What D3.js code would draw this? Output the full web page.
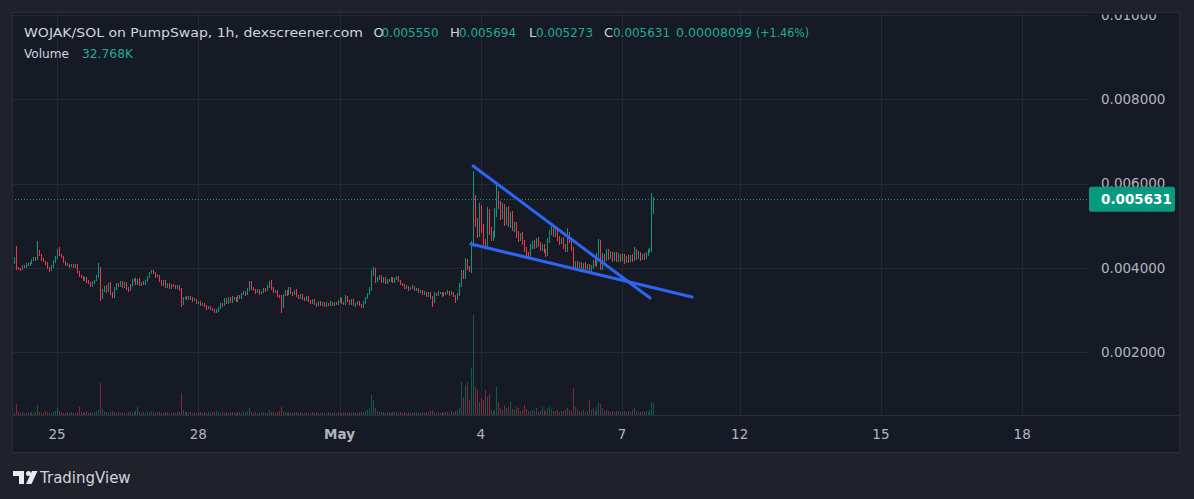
<!DOCTYPE html>
<html><head><meta charset="utf-8">
<script src="https://cdn.jsdelivr.net/npm/d3@7"></script>
<style>html,body{margin:0;padding:0;background:#1f222b;}svg{display:block}</style>
</head><body>
<svg id="c" width="1194" height="499"></svg>
<script>
// ---------- DATA (prices in micro-SOL, volumes in K) ----------
const UNIT = 1e-6;
const firstBarIndex = -22;          // bar index 0 = Apr 25 00:00 (1h bars)
const firstOpen = 4118;
const closes = [
4237,4000,3990,3960,4050,4020,4090,4060,4120,4180,
4230,4200,4400,4310,4200,4150,4100,4000,3950,4030,
4150,4250,4380,4300,4250,4150,4060,4080,4040,4070,
4030,4060,3900,3820,3780,3720,3760,3680,3640,3580,
3650,3700,3800,4000,3300,3450,3550,3450,3600,3400,
3320,3500,3620,3580,3660,3560,3640,3520,3470,3580,
3700,3740,3620,3720,3600,3650,3620,3700,3780,3880,
3930,3880,3800,3820,3700,3600,3680,3560,3620,3540,
3600,3580,3520,3560,3480,3150,3290,3300,3270,3310,
3280,3230,3250,3180,3200,3120,3150,3100,3050,3080,
3030,3000,2960,2990,3060,3150,3120,3250,3180,3280,
3200,3300,3270,3220,3330,3300,3380,3430,3380,3480,
3650,3520,3480,3420,3480,3400,3430,3500,3470,3560,
3680,3520,3440,3460,3350,3320,3080,3350,3450,3380,
3520,3420,3380,3460,3330,3300,3360,3280,3250,3320,
3230,3180,3240,3150,3120,3190,3120,3170,3110,3160,
3130,3180,3120,3170,3140,3200,3260,3180,3150,3320,
3230,3150,3230,3120,3150,3200,3130,3080,3180,3280,
3380,3500,3850,3980,3700,3750,3800,3680,3760,3660,
3720,3700,3760,3680,3740,3780,3700,3620,3600,3540,
3560,3500,3520,3560,3480,3500,3440,3460,3400,3420,
3340,3400,3300,3200,3380,3360,3420,3400,3350,3410,
3400,3440,3380,3420,3340,3280,3380,3600,3900,3800,
4150,4000,3950,4550,5700,5070,4830,5400,4950,4600,
4550,5300,4900,4750,4800,5300,5700,5500,5250,5420,
5100,5350,5050,5250,4950,5000,4800,4700,4780,4600,
4450,4330,4300,4500,4600,4520,4680,4550,4450,4520,
4400,4330,4650,4850,4950,4780,4900,4700,4600,4680,
4500,4420,4800,4650,4450,4000,4120,4050,4100,4000,
4080,3980,4050,3930,4020,4150,4080,4300,4600,4000,
4300,4200,4400,4250,4350,4200,4330,4180,4300,4200,
4280,4150,4250,4170,4260,4200,4420,4250,4350,4220,
4300,4250,4330,4400,4420,5550,5631];
const upperWicks = [
25,283,30,20,30,25,35,20,30,40,
30,25,240,30,20,25,20,30,25,30,
40,35,60,120,30,25,20,30,25,30,
20,25,30,20,25,20,30,20,25,20,
30,25,40,118,30,40,30,40,35,60,
30,40,30,35,25,40,30,35,25,30,
35,30,25,30,40,25,30,25,30,35,
22,30,25,30,25,20,30,25,30,25,
30,25,20,30,25,40,30,20,25,30,
20,25,30,20,25,20,30,25,20,25,
20,25,20,30,25,30,20,35,30,25,
30,25,20,30,25,30,25,30,20,35,
40,30,25,20,30,25,20,30,25,30,
20,30,25,20,25,20,30,30,25,30,
25,30,20,25,30,20,25,20,25,20,
25,20,25,30,20,25,20,25,20,25,
20,25,20,25,20,30,40,25,20,30,
25,20,30,25,20,25,20,25,30,35,
30,40,100,40,30,35,30,25,30,25,
30,25,30,25,30,35,25,20,25,20,
25,20,25,30,20,25,20,25,20,25,
20,25,20,30,40,25,30,20,25,30,
25,30,20,25,20,25,30,40,50,60,
80,60,50,100,600,20,120,150,100,90,
80,150,100,80,70,120,350,120,100,110,
90,100,120,80,100,90,80,70,60,80,
60,50,40,60,50,60,40,50,60,50,
60,50,60,50,40,60,50,60,50,40,
50,60,150,50,60,40,50,40,50,40,
40,50,40,50,40,50,60,50,80,60,
50,40,60,40,50,40,50,40,50,40,
40,50,40,50,40,60,80,40,50,40,
40,50,40,50,60,230,63];
const lowerWicks = [
20,40,30,25,20,30,20,25,20,30,
25,30,20,25,30,20,25,30,40,20,
20,25,30,20,25,30,25,20,30,25,
30,20,25,30,25,30,20,25,30,35,
20,25,20,30,80,30,25,40,30,50,
40,30,25,30,25,30,25,35,40,25,
25,30,35,25,30,25,30,25,30,20,
25,30,35,25,30,35,25,40,30,35,
30,35,30,25,30,76,30,25,30,25,
30,35,25,30,25,30,25,30,35,30,
35,30,30,28,25,30,35,30,25,30,
30,25,30,35,25,30,25,30,35,25,
30,35,30,35,25,30,25,30,35,25,
30,35,30,25,35,30,148,30,25,35,
25,30,35,25,30,35,25,30,35,25,
30,35,25,30,35,25,30,25,30,25,
30,25,30,25,30,25,30,35,30,25,
35,30,25,30,35,25,30,40,25,30,
25,30,40,30,50,30,25,35,30,35,
30,25,30,35,25,30,35,30,25,35,
30,35,30,25,35,30,35,30,35,30,
35,30,40,126,30,25,30,25,30,25,
30,25,35,25,35,110,30,40,50,60,
50,60,50,60,50,100,120,100,120,110,
90,80,120,100,110,90,80,100,110,90,
100,80,90,100,80,90,100,80,70,60,
60,50,60,40,50,60,50,60,50,40,
50,60,40,50,60,50,40,60,50,40,
60,50,40,60,50,50,40,50,40,60,
40,50,40,50,40,50,40,50,40,50,
40,50,40,50,40,50,40,50,40,50,
40,50,40,50,40,50,40,50,40,50,
40,50,40,50,40,40,277];
const volumesK = [
6,30,8,5,7,4,6,9,5,7,
6,8,27,9,6,5,10,7,5,6,
8,12,18,10,7,6,5,8,6,7,
5,6,9,22,8,7,6,10,5,7,
6,8,10,14,88,16,9,8,6,7,
10,8,6,7,5,9,6,5,8,7,
6,9,10,22,7,6,8,5,7,9,
12,8,6,7,9,6,5,8,7,6,
5,7,6,8,9,60,14,9,7,6,
8,5,7,6,9,7,6,8,5,7,
6,9,7,10,8,6,7,5,8,6,
7,9,6,5,8,7,6,9,7,10,
20,8,6,7,5,6,8,7,5,6,
14,9,7,6,8,10,22,9,7,6,
8,6,5,7,9,6,8,5,6,7,
5,6,8,5,7,6,5,8,6,5,
7,6,5,8,6,7,5,6,7,9,
6,8,5,7,6,5,8,9,7,10,
14,20,55,40,18,10,8,9,7,6,
8,7,6,9,7,8,6,7,5,8,
6,7,5,6,8,7,6,5,7,6,
8,7,10,14,9,6,7,5,8,6,
7,9,6,10,8,12,14,18,90,49,
82,90,41,128,273,76,68,35,46,41,
68,49,57,14,12,15,76,35,20,14,
27,18,22,35,16,14,22,18,12,14,
27,16,12,10,14,11,20,9,12,22,
14,11,18,22,16,12,10,13,9,11,
12,14,20,15,12,74,22,16,12,10,
14,9,12,41,15,20,12,22,33,30,
18,12,14,10,9,12,8,10,12,9,
8,10,9,12,8,14,18,10,8,9,
10,8,12,9,14,35,32.768];

const priceTicks = [0.002, 0.004, 0.006, 0.008, 0.010];
const priceTickLabels = ["0.002000", "0.004000", "0.006000", "0.008000", "0.01000"];
const timeTickIndex = [0, 72, 144, 216, 288, 348, 420, 492];
const timeTickLabels = ["25", "28", "May", "4", "7", "12", "15", "18"];
const trendLines = [
  [[212.1, 0.00642], [302.3, 0.003288]],
  [[211.0, 0.004569], [323.7, 0.003312]]
];
const legendTitle = "WOJAK/SOL on PumpSwap, 1h, dexscreener.com";
const legendKeys = ["O", "H", "L", "C"];
const legendVals = ["0.005550", "0.005694", "0.005273", "0.005631"];
const legendChange = ["0.00008099", "(+1.46%)"];
const volumeLabel = ["Volume", "32.768K"];
const lastPriceLabel = "0.005631";

// ---------- LAYOUT ----------
const W = 1194, H = 499;
const paneL = 12, paneT = 12, paneR = 1180, paneB = 453, plotR = 1088, plotB = 415;
const UP = "#089981", DOWN = "#f23645", TEXT = "#d1d4dc", AXIS_TEXT = "#b2b5be", GREEN_TXT = "#22ab94";
const FONT = "'DejaVu Sans', sans-serif";

const svg = d3.select("#c");
svg.append("rect").attr("width", W).attr("height", H).attr("fill", "#1f222b");
svg.append("rect").attr("x", paneL + 0.5).attr("y", paneT + 0.5)
  .attr("width", paneR - paneL - 1).attr("height", paneB - paneT - 1)
  .attr("fill", "#161a25").attr("stroke", "#2a2e39");

const defs = svg.append("defs");
defs.append("clipPath").attr("id", "plotClip").append("rect")
  .attr("x", paneL + 1).attr("y", paneT + 1).attr("width", plotR - paneL - 1).attr("height", plotB - paneT - 1);
defs.append("clipPath").attr("id", "axisClip").append("rect")
  .attr("x", plotR).attr("y", 14.5).attr("width", paneR - plotR - 1).attr("height", plotB - 14.5);

const x = d3.scaleLinear().domain([0, 288]).range([57, 622]);
const y = d3.scaleLinear().domain([0.002, 0.008]).range([352.3, 99.3]);
const yv = d3.scaleLinear().domain([0, 273]).range([plotB, plotB - 100]);

const bars = closes.map((c, i) => {
  const o = i === 0 ? firstOpen : closes[i - 1];
  return { idx: firstBarIndex + i, o, c,
    h: Math.max(o, c) + upperWicks[i], l: Math.min(o, c) - lowerWicks[i], v: volumesK[i] };
});

const plot = svg.append("g").attr("clip-path", "url(#plotClip)");
// grid
plot.append("g").selectAll("line").data(priceTicks).join("line")
  .attr("x1", paneL).attr("x2", plotR)
  .attr("y1", d => Math.round(y(d)) + 0.5).attr("y2", d => Math.round(y(d)) + 0.5)
  .attr("stroke", "#242833");
plot.append("g").selectAll("line").data(timeTickIndex).join("line")
  .attr("x1", d => Math.round(x(d)) + 0.5).attr("x2", d => Math.round(x(d)) + 0.5)
  .attr("y1", paneT).attr("y2", plotB)
  .attr("stroke", "#242833");

// volume
plot.append("g").selectAll("rect").data(bars).join("rect")
  .attr("x", d => Math.round(x(d.idx))).attr("width", 1)
  .attr("y", d => yv(d.v)).attr("height", d => plotB - yv(d.v))
  .attr("fill", d => d.c >= d.o ? UP : DOWN).attr("fill-opacity", 0.5)
  .attr("shape-rendering", "crispEdges");

// candles
const cg = plot.append("g").attr("shape-rendering", "crispEdges");
cg.selectAll("line").data(bars).join("line")
  .attr("x1", d => Math.round(x(d.idx)) + 0.5).attr("x2", d => Math.round(x(d.idx)) + 0.5)
  .attr("y1", d => y(d.h * UNIT)).attr("y2", d => y(d.l * UNIT))
  .attr("stroke", d => d.c >= d.o ? UP : DOWN).attr("stroke-width", 1);
cg.selectAll("rect").data(bars).join("rect")
  .attr("x", d => Math.round(x(d.idx))).attr("width", 1)
  .attr("y", d => y(Math.max(d.o, d.c) * UNIT))
  .attr("height", d => Math.max(1, Math.abs(y(d.o * UNIT) - y(d.c * UNIT))))
  .attr("fill", d => d.c >= d.o ? UP : DOWN);

// last price dotted line
const lastC = closes[closes.length - 1] * UNIT;
plot.append("line").attr("x1", paneL).attr("x2", plotR)
  .attr("y1", Math.round(y(lastC)) + 0.5).attr("y2", Math.round(y(lastC)) + 0.5)
  .attr("stroke", UP).attr("stroke-dasharray", "1,2");

// trend lines
const tl = d3.line().x(d => x(d[0])).y(d => y(d[1]));
plot.append("g").selectAll("path").data(trendLines).join("path")
  .attr("d", tl).attr("stroke", "#2f64f2").attr("stroke-width", 3)
  .attr("stroke-linecap", "round").attr("fill", "none");

// price axis
const ax = svg.append("g").attr("clip-path", "url(#axisClip)");
ax.selectAll("text").data(priceTicks).join("text")
  .attr("x", 1101).attr("y", d => y(d)).attr("dy", "0.36em")
  .attr("fill", AXIS_TEXT).attr("font-family", FONT).attr("font-size", 13.5)
  .text((d, i) => priceTickLabels[i]);
ax.append("rect").attr("x", 1089).attr("y", y(lastC) - 12.5).attr("width", 86).attr("height", 25)
  .attr("rx", 2).attr("fill", UP);
ax.append("text").attr("x", 1101).attr("y", y(lastC)).attr("dy", "0.36em")
  .attr("fill", "#ffffff").attr("font-family", FONT).attr("font-size", 13.5).attr("font-weight", "bold")
  .text(lastPriceLabel);

// time axis
svg.append("line").attr("x1", paneL).attr("x2", paneR).attr("y1", plotB + 0.5).attr("y2", plotB + 0.5)
  .attr("stroke", "#2a2e39");
svg.append("g").selectAll("text").data(timeTickIndex).join("text")
  .attr("x", d => x(d)).attr("y", 434).attr("dy", "0.36em").attr("text-anchor", "middle")
  .attr("fill", AXIS_TEXT).attr("font-family", FONT).attr("font-size", 13.5)
  .attr("font-weight", (d, i) => timeTickLabels[i] === "May" ? "bold" : "normal")
  .text((d, i) => timeTickLabels[i]);

// legend
const lg = svg.append("g").attr("font-family", FONT).attr("font-size", 13);
function t(xp, yp, s, col, len) {
  const e = lg.append("text").attr("x", xp).attr("y", yp).attr("dy", "0.36em").attr("fill", col).text(s);
  if (len) e.attr("textLength", len).attr("lengthAdjust", "spacingAndGlyphs");
  return e;
}
t(24, 32, legendTitle, TEXT, 339);
const keyX = [373.5, 450, 529, 604], valX = [381.5, 459, 536, 613];
legendKeys.forEach((k, i) => { t(keyX[i], 32, k, TEXT); t(valX[i], 32, legendVals[i], GREEN_TXT, 57); });
t(676, 32, legendChange[0], GREEN_TXT, 76);
t(756, 32, legendChange[1], GREEN_TXT, 53);
t(24, 53, volumeLabel[0], TEXT, 45);
t(82, 53, volumeLabel[1], GREEN_TXT, 51);

// TradingView logo
const logo = svg.append("g").attr("fill", "#e8eaf0");
logo.append("path").attr("d", "M13,471 H24 V484 H19 V476 H13 Z");
logo.append("circle").attr("cx", 28.5).attr("cy", 473.5).attr("r", 2.5);
logo.append("path").attr("d", "M32,471 H37.5 L31.5,484 H26 Z");
svg.append("text").attr("x", 40).attr("y", 478).attr("dy", "0.36em")
  .attr("fill", "#d1d4dc").attr("font-family", FONT).attr("font-size", 15)
  .text("TradingView");
</script>
</body></html>
